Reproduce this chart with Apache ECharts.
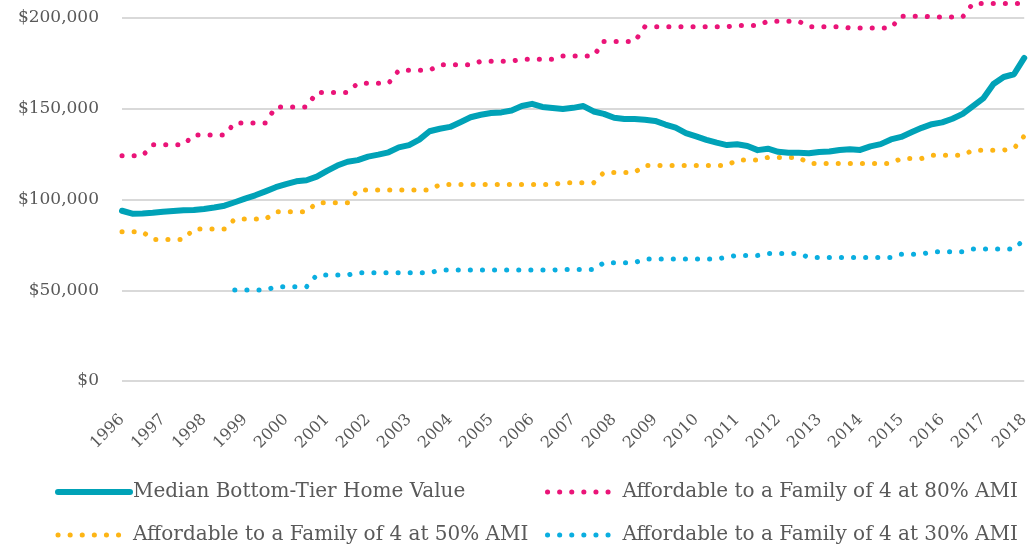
<!DOCTYPE html>
<html>
<head>
<meta charset="utf-8">
<script src="https://cdn.jsdelivr.net/npm/echarts@6/dist/echarts.min.js"></script>
<style>
  html, body { margin: 0; padding: 0; background: #fff; }
  #chart { width: 1032px; height: 550px; }
</style>
</head>
<body>
<div id="chart"></div>
<script>
// quarterly categories, 1996 Q1 .. 2018 Q1
const years = [1996, 1997, 1998, 1999, 2000, 2001, 2002, 2003, 2004, 2005, 2006, 2007,
	2008, 2009, 2010, 2011, 2012, 2013, 2014, 2015, 2016, 2017, 2018]
const quarters = []
years.forEach(y => {
	['Q1', 'Q2', 'Q3', 'Q4'].forEach(q => {
		if (y < 2018 || q === 'Q1') quarters.push(y + ' ' + q)
	})
})

const homeValue = [
	93800, 92200, 92300, 92700, 93300, 93700, 94100, 94200, 94800, 95600,
	96600, 98500, 100500, 102300, 104500, 106800, 108500, 110000, 110600, 112600,
	115800, 118700, 120800, 121700, 123600, 124700, 126000, 128700, 130000, 133000,
	137600, 139000, 140000, 142600, 145300, 146700, 147700, 148000, 149000, 151500,
	152700, 151000, 150400, 149900, 150500, 151500, 148500, 147200, 145000, 144300,
	144300, 143900, 143300, 141300, 139600, 136600, 134800, 132900, 131300, 130000,
	130400, 129500, 127200, 128000, 126300, 125800, 125700, 125500, 126200, 126400,
	127300, 127700, 127300, 129300, 130500, 133100, 134500, 137000, 139500, 141500,
	142500, 144500, 147200, 151500, 155700, 163600, 167500, 169000, 178000
]

const ami80 = [
	124100, 124100, 124100,
	130100, 130100, 130100, 130100,
	135600, 135600, 135600, 135600,
	142200, 142200, 142200, 142200,
	151000, 151000, 151000, 151000,
	159000, 159000, 159000, 159000,
	164000, 164000, 164000, 164000,
	171200, 171200, 171200, 171200,
	174200, 174200, 174200, 174200,
	176200, 176200, 176200, 176200,
	177300, 177300, 177300, 177300,
	179100, 179100, 179100, 179100,
	187000, 187000, 187000, 187000,
	195200, 195200, 195200, 195200, 195200, 195200, 195200, 195200, 195200,
	195900, 195900, 195900,
	198200, 198200, 198200, 198200,
	195200, 195200, 195200, 195200,
	194500, 194500, 194500, 194500, 194500,
	201000, 201000, 201000,
	200600, 200600, 200600, 200600,
	208000, 208000, 208000, 208000, 208000, 208000
]

const ami50 = [
	82200, 82200, 82200,
	78000, 78000, 78000, 78000,
	83700, 83700, 83700, 83700,
	89200, 89200, 89200, 89200,
	93200, 93200, 93200, 93200,
	98200, 98200, 98200, 98200,
	105200, 105200, 105200, 105200, 105200, 105200, 105200, 105200,
	108200, 108200, 108200, 108200, 108200, 108200, 108200, 108200, 108200, 108200, 108200, 108200,
	109200, 109200, 109200, 109200,
	114900, 114900, 114900, 114900,
	118800, 118800, 118800, 118800, 118800, 118800, 118800, 118800, 118800,
	121700, 121700, 121700,
	123200, 123200, 123200, 123200,
	119900, 119900, 119900, 119900, 119900, 119900, 119900, 119900, 119900,
	122600, 122600, 122600,
	124400, 124400, 124400, 124400,
	127200, 127200, 127200, 127200,
	128100,
	135000
]

const ami30 = [
	null, null, null, null, null, null, null, null, null, null, null,
	50100, 50100, 50100, 50100,
	51900, 51900, 51900, 51900,
	58400, 58400, 58400, 58400,
	59600, 59600, 59600, 59600, 59600, 59600, 59600, 59600,
	61100, 61100, 61100, 61100, 61100, 61100, 61100, 61100, 61100, 61100, 61100, 61100,
	61400, 61400, 61400, 61400,
	65200, 65200, 65200, 65200,
	67200, 67200, 67200, 67200, 67200, 67200, 67200, 67200,
	68200,
	69200, 69200, 69200,
	70300, 70300, 70300, 70300,
	68100, 68100, 68100, 68100, 68100, 68100, 68100, 68100, 68100,
	69900, 69900, 69900,
	71200, 71200, 71200, 71200,
	72700, 72700, 72700, 72700, 72700,
	78000
]

const names = [
	'Median Bottom-Tier Home Value',
	'Affordable to a Family of 4 at 80% AMI',
	'Affordable to a Family of 4 at 50% AMI',
	'Affordable to a Family of 4 at 30% AMI'
]

const textColor = '#595959'
const serif = 'DejaVu Serif'

const dotted = (color) => ({
	color: color,
	width: 5,
	type: [0.1, 12],
	cap: 'round'
})

// one legend per column, two rows each
const legendBase = {
	orient: 'vertical',
	top: 482,
	padding: 0,
	itemWidth: 72,
	itemHeight: 20,
	itemGap: 23,
	selectedMode: false,
	itemStyle: { opacity: 0 },
	lineStyle: { width: 'inherit' },
	textStyle: { color: textColor, fontFamily: serif, fontSize: 20, lineHeight: 20, padding: [0, 0, 0, -2] }
}

const options = {
	animation: false,
	grid: { left: 122, right: 0, top: 18, bottom: 169 },
	legend: [
		Object.assign({}, legendBase, { left: 55, data: [ names[0], names[2] ] }),
		Object.assign({}, legendBase, { left: 545, data: [ names[1], names[3] ] })
	],
	xAxis: {
		type: 'category',
		data: quarters,
		boundaryGap: false,
		axisLine: { show: false },
		axisTick: { show: false },
		axisLabel: {
			interval: 3,
			rotate: 45,
			margin: 36,
			color: textColor,
			fontFamily: serif,
			fontSize: 16,
			formatter: (v) => v.slice(0, 4)
		}
	},
	yAxis: {
		type: 'value',
		min: 0,
		max: 200000,
		interval: 50000,
		axisLine: { show: false },
		axisTick: { show: false },
		splitLine: { lineStyle: { color: '#d9d9d9', width: 2 } },
		axisLabel: {
			margin: 23,
			color: textColor,
			fontFamily: serif,
			fontSize: 17,
			formatter: (v) => '$' + v.toLocaleString('en-US')
		}
	},
	series: [
		{
			name: names[1], type: 'line', data: ami80, symbol: 'none', clip: false,
			itemStyle: { color: '#ea1478' }, lineStyle: dotted('#ea1478')
		},
		{
			name: names[2], type: 'line', data: ami50, symbol: 'none', clip: false,
			itemStyle: { color: '#fdb515' }, lineStyle: dotted('#fdb515')
		},
		{
			name: names[3], type: 'line', data: ami30, symbol: 'none', clip: false,
			itemStyle: { color: '#0aaee0' }, lineStyle: dotted('#0aaee0')
		},
		{
			name: names[0], type: 'line', data: homeValue, symbol: 'none', clip: false,
			itemStyle: { color: '#00a2b7' },
			lineStyle: { color: '#00a2b7', width: 6, cap: 'round', join: 'round' }
		}
	]
}

echarts.init(document.getElementById('chart')).setOption(options)
</script>
</body>
</html>
